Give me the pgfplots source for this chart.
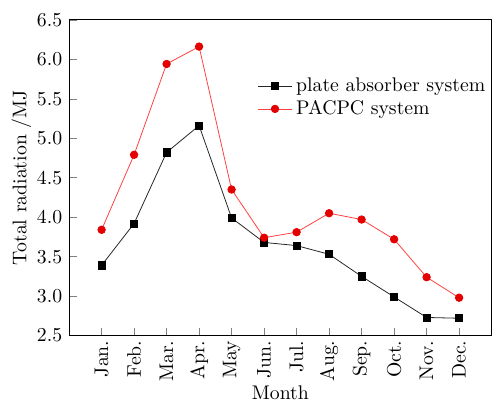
\documentclass[border=0pt]{standalone}
\usepackage{pgfplots}
\pgfplotsset{compat=1.18}
\begin{document}
\begin{tikzpicture}
\begin{axis}[
  name=ax,
  scale only axis,
  width=214pt, height=160pt,
  xmin=0, xmax=13,
  ymin=2.5, ymax=6.5,
  xtick={1,...,12},
  xticklabels={Jan.,Feb.,Mar.,Apr.,May,Jun.,Jul.,Aug.,Sep.,Oct.,Nov.,Dec.},
  x tick label style={rotate=90, anchor=east},
  xticklabel shift=-1pt,
  ytick={2.5,3.0,...,6.5},
  yticklabel style={/pgf/number format/fixed, /pgf/number format/fixed zerofill, /pgf/number format/precision=1},
  tick pos=left,
  tick align=inside,
  major tick length=4pt,
  xlabel={Month},
  ylabel={Total radiation /MJ},
  xlabel style={yshift=5pt},
  ylabel style={yshift=-4pt},
  legend style={draw=none, fill=none, at={(1,0.83)}, anchor=north east, inner xsep=1pt, inner ysep=0pt, font=\normalsize, row sep=-1pt},
  legend cell align=left,
]
\addplot[black!85, line width=0.4pt, mark=square*, mark size=1.8pt, mark options={fill=black, draw=black}] coordinates {
(1,3.39) (2,3.92) (3,4.82) (4,5.16) (5,3.99) (6,3.68) (7,3.64) (8,3.53) (9,3.25) (10,2.99) (11,2.73) (12,2.72)
};
\addlegendentry{plate absorber system}
\addplot[red!75!white, line width=0.4pt, mark=*, mark size=1.9pt, mark options={fill=red!90!black, draw=red!90!black}] coordinates {
(1,3.84) (2,4.79) (3,5.94) (4,6.16) (5,4.35) (6,3.74) (7,3.81) (8,4.05) (9,3.97) (10,3.72) (11,3.24) (12,2.98)
};
\addlegendentry{PACPC system}
\end{axis}
\path (ax.north west) ++(0,10pt);
\path (ax.south west) ++(-35pt,0);
\end{tikzpicture}
\end{document}
